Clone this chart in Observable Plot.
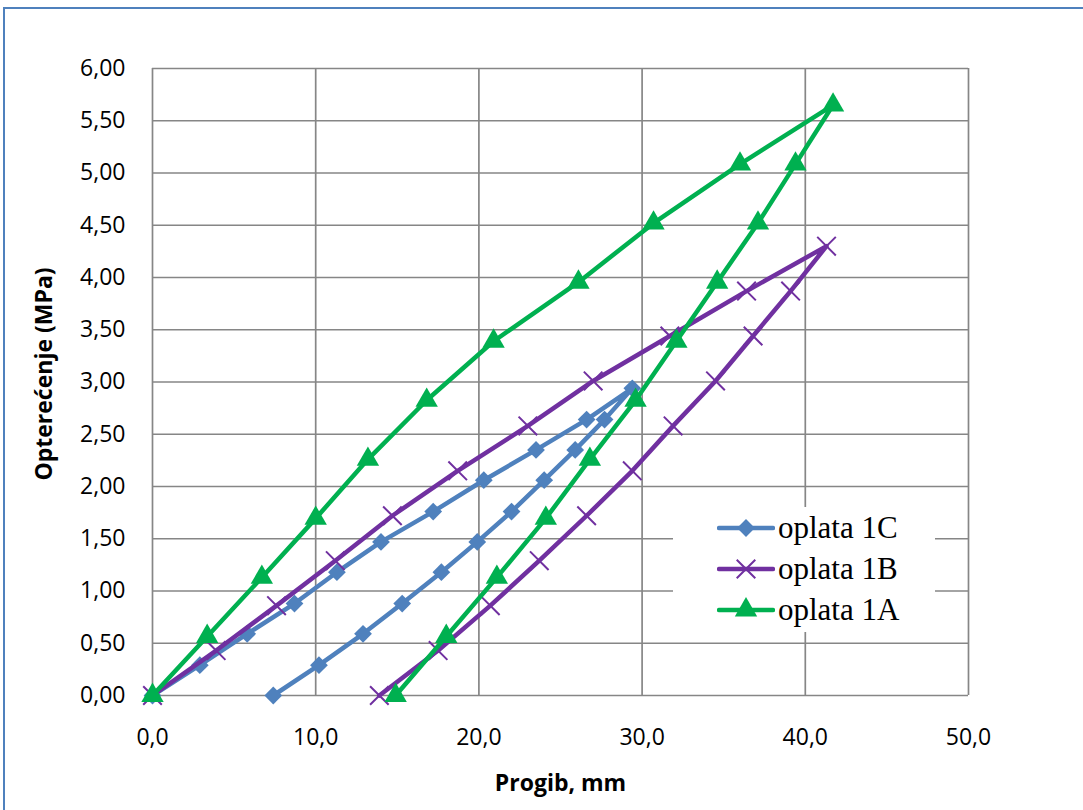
<!DOCTYPE html>
<html>
<head>
<meta charset="utf-8">
<script src="https://cdn.jsdelivr.net/npm/d3@7"></script>
<script src="https://cdn.jsdelivr.net/npm/@observablehq/plot@0.6"></script>
<style>
  html, body { margin: 0; padding: 0; background: #fff; overflow: hidden; }
  #wrap { position: relative; width: 1083px; height: 810px; }
  #border { position: absolute; left: 3px; top: 7px; width: 1200px; height: 900px;
            border-left: 2px solid #4f81bd; border-top: 2px solid #4f81bd; pointer-events: none; }
  #legend { position: absolute; left: 673px; top: 507px; width: 262px; height: 125px; background: #fff; }
  .item { position: absolute; left: 0; height: 40px; display: flex; align-items: center; }
  .item span { font-family: "Liberation Serif", "Times New Roman", serif; font-size: 31px; color: #000; margin-left: 3px; }
</style>
</head>
<body>
<div id="wrap">
  <div id="chart"></div>
  <div id="legend"></div>
  <div id="border"></div>
</div>
<script>
// Series: oplata 1C (blue diamonds)
const x1C = [0, 2.9, 5.8, 8.7, 11.3, 14.0, 17.2, 20.3, 23.5, 26.6, 29.4, 27.7, 25.9, 24.0, 22.0, 19.9, 17.7, 15.3, 12.9, 10.2, 7.4];
const y1C = [0, 0.29, 0.59, 0.88, 1.18, 1.47, 1.76, 2.06, 2.35, 2.64, 2.94, 2.64, 2.35, 2.06, 1.76, 1.47, 1.18, 0.88, 0.59, 0.29, 0];
// Series: oplata 1B (purple crosses)
const x1B = [0, 3.9, 7.6, 11.2, 14.7, 18.7, 23.0, 27.0, 31.7, 36.4, 41.3, 39.1, 36.8, 34.5, 31.9, 29.4, 26.6, 23.7, 20.7, 17.5, 13.9];
const y1B = [0, 0.43, 0.86, 1.29, 1.72, 2.15, 2.58, 3.01, 3.44, 3.87, 4.30, 3.87, 3.44, 3.01, 2.58, 2.15, 1.72, 1.29, 0.86, 0.43, 0];
// Series: oplata 1A (green triangles)
const x1A = [0, 3.35, 6.7, 10.0, 13.2, 16.8, 20.9, 26.1, 30.7, 36.0, 41.7, 39.4, 37.1, 34.6, 32.1, 29.6, 26.8, 24.1, 21.1, 18.0, 14.9];
const y1A = [0, 0.565, 1.13, 1.695, 2.26, 2.825, 3.39, 3.955, 4.52, 5.085, 5.65, 5.085, 4.52, 3.955, 3.39, 2.825, 2.26, 1.695, 1.13, 0.565, 0];

const seriesNames = ["oplata 1C", "oplata 1B", "oplata 1A"];
const xTicks = [0, 10, 20, 30, 40, 50];
const yTicks = [0, 0.5, 1, 1.5, 2, 2.5, 3, 3.5, 4, 4.5, 5, 5.5, 6];
const xTitle = "Progib, mm";
const yTitle = "Opterećenje (MPa)";

const colors = {"oplata 1C": "#4f81bd", "oplata 1B": "#7030a0", "oplata 1A": "#00b050"};

const toRows = (xs, ys, name) => xs.map((x, i) => ({x, y: ys[i], s: name}));
const d1C = toRows(x1C, y1C, seriesNames[0]);
const d1B = toRows(x1B, y1B, seriesNames[1]);
const d1A = toRows(x1A, y1A, seriesNames[2]);

const lineW = 4.5;
const font = "'Open Sans', 'Liberation Sans', sans-serif";

const chart = Plot.plot({
  width: 1083,
  height: 810,
  marginLeft: 152,
  marginRight: 115,
  marginTop: 68,
  marginBottom: 115,
  style: {fontFamily: font, fontSize: "23px", color: "#000", background: "#fff"},
  x: {domain: [0, 50]},
  y: {domain: [0, 6]},
  marks: [
    Plot.gridX(xTicks, {stroke: "#868686", strokeOpacity: 1, strokeWidth: 1.7}),
    Plot.gridY(yTicks, {stroke: "#868686", strokeOpacity: 1, strokeWidth: 1.7}),
    Plot.axisX(xTicks, {tickSize: 0, tickPadding: 33, tickFormat: d => d.toFixed(1).replace(".", ","), label: null, fontSize: 23}),
    Plot.axisY(yTicks, {tickSize: 0, tickPadding: 27, tickFormat: d => d.toFixed(2).replace(".", ","), label: null, fontSize: 23}),
    Plot.text([xTitle], {frameAnchor: "bottom", dy: 95, text: d => d, textAnchor: "middle", fontWeight: "bold", fontSize: 23, fill: "#000"}),
    Plot.text([yTitle], {frameAnchor: "left", dx: -108, dy: -8, rotate: -90, text: d => d, textAnchor: "middle", fontWeight: "bold", fontSize: 23, fill: "#000"}),
    // 1C
    Plot.line(d1C, {x: "x", y: "y", stroke: colors["oplata 1C"], strokeWidth: lineW, strokeLinejoin: "round", strokeLinecap: "round"}),
    Plot.dot(d1C, {x: "x", y: "y", symbol: "diamond2", r: 8, fill: colors["oplata 1C"], stroke: "none"}),
    // 1B
    Plot.line(d1B, {x: "x", y: "y", stroke: colors["oplata 1B"], strokeWidth: lineW, strokeLinejoin: "round", strokeLinecap: "round"}),
    Plot.dot(d1B, {x: "x", y: "y", symbol: "times", r: 8.5, stroke: colors["oplata 1B"], strokeWidth: 2, fill: "none"}),
    // 1A
    Plot.line(d1A, {x: "x", y: "y", stroke: colors["oplata 1A"], strokeWidth: lineW, strokeLinejoin: "round", strokeLinecap: "round"}),
    Plot.dot(d1A, {x: "x", y: "y", symbol: "triangle", r: 8.3, fill: colors["oplata 1A"], stroke: "none"})
  ]
});
document.getElementById("chart").appendChild(chart);

// Legend
const legend = document.getElementById("legend");
const symbols = {"oplata 1C": ["diamond2", 8, true], "oplata 1B": ["times", 8.5, false], "oplata 1A": ["triangle", 8.3, true]};
const symMap = {diamond2: d3.symbolDiamond2, times: d3.symbolTimes, triangle: d3.symbolTriangle};
seriesNames.forEach((name, i) => {
  const item = document.createElement("div");
  item.className = "item";
  item.style.top = (1 + i * 41) + "px";
  item.style.left = "44px";
  const [sym, r, filled] = symbols[name];
  const path = d3.symbol(symMap[sym], Math.PI * r * r)();
  const c = colors[name];
  item.innerHTML =
    `<svg width="58" height="40" viewBox="0 0 58 40">
       <line x1="2" y1="20" x2="56" y2="20" stroke="${c}" stroke-width="${lineW}" stroke-linecap="round"/>
       <path transform="translate(29,20)" d="${path}" fill="${filled ? c : "none"}" stroke="${filled ? "none" : c}" stroke-width="2"/>
     </svg><span>${name}</span>`;
  legend.appendChild(item);
});
</script>
</body>
</html>
